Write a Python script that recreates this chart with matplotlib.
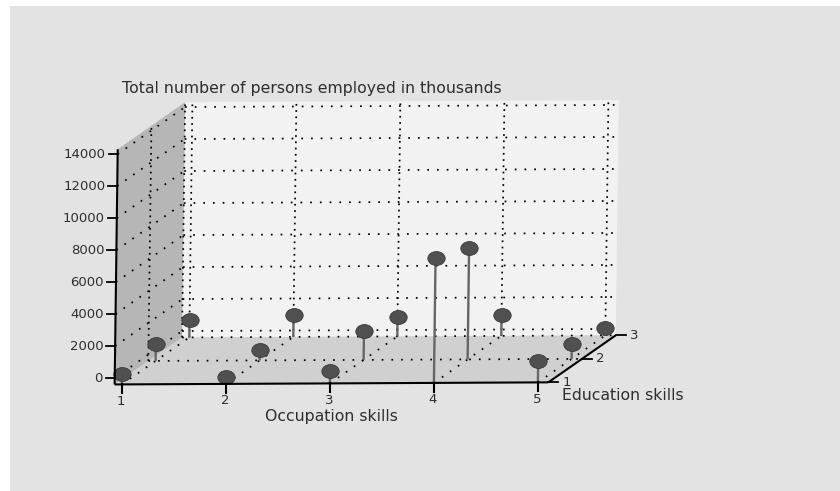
import matplotlib
matplotlib.use("Agg")
import matplotlib.pyplot as plt
from matplotlib.markers import MarkerStyle
from matplotlib.transforms import Affine2D

occupation = [1, 2, 3, 4, 5]
education = [1, 2, 3]
z_ticks = [0, 2000, 4000, 6000, 8000, 10000, 12000, 14000]
employed_edu1 = [250, 50, 375, 7400, 940]
employed_edu2 = [650, 250, 1400, 6560, 530]
employed_edu3 = [690, 970, 810, 900, 50]
employed = [employed_edu1, employed_edu2, employed_edu3]
title = "Total number of persons employed in thousands"

OCC_MIN, OCC_MAX = 0.93, 5.10
EDU_MIN, EDU_MAX = 1, 3
Z_MIN, Z_MAX = -400, 14300


def proj(occ, edu, z):
    """Oblique projection of the box onto picture pixels."""
    px = 122 + 104 * (occ - 1) + 33.7 * (edu - 1) + 0.00021 * z
    py = 378 - 0.016 * z - 23.5 * (edu - 1) - 0.5 * (occ - 1)
    return px, py


def poly(ax, corners, color, z):
    pts = [proj(*c) for c in corners]
    ax.fill([p[0] for p in pts], [p[1] for p in pts], color=color, lw=0, zorder=z)


def line(ax, a, b, **kw):
    pa, pb = proj(*a), proj(*b)
    ax.plot([pa[0], pb[0]], [pa[1], pb[1]], solid_capstyle="butt", **kw)


fig = plt.figure(figsize=(8.4, 4.91), dpi=100, facecolor="#ffffff")
ax = fig.add_axes([0, 0, 1, 1])
ax.set_xlim(0, 840)
ax.set_ylim(491, 0)
ax.axis("off")
ax.fill_between([10, 840], 6, 491, color="#e3e3e3", lw=0, zorder=0)

# panes
poly(ax, [(OCC_MIN, EDU_MAX, Z_MIN), (OCC_MAX, EDU_MAX, Z_MIN),
          (OCC_MAX, EDU_MAX, Z_MAX), (OCC_MIN, EDU_MAX, Z_MAX)], "#f2f2f2", 1)
poly(ax, [(OCC_MIN, EDU_MIN, Z_MIN), (OCC_MIN, EDU_MAX, Z_MIN),
          (OCC_MIN, EDU_MAX, Z_MAX), (OCC_MIN, EDU_MIN, Z_MAX)], "#b6b6b6", 1)
poly(ax, [(OCC_MIN, EDU_MIN, Z_MIN), (OCC_MAX, EDU_MIN, Z_MIN),
          (OCC_MAX, EDU_MAX, Z_MIN), (OCC_MIN, EDU_MAX, Z_MIN)], "#d0d0d0", 1)

# dotted grid
h_dots = dict(color="#000000", lw=1.25, ls=(0, (1.0, 4.6)), zorder=2)
v_dots = dict(color="#000000", lw=1.25, ls=(0, (1.0, 2.6)), zorder=2)
for z in z_ticks:
    line(ax, (OCC_MIN, EDU_MAX, z), (OCC_MAX + 0.02, EDU_MAX, z), **h_dots)
    line(ax, (OCC_MIN, EDU_MIN, z), (OCC_MIN, EDU_MAX, z), **h_dots)
for o in occupation:
    line(ax, (o, EDU_MAX, Z_MIN), (o, EDU_MAX, Z_MAX), **v_dots)
    line(ax, (o, EDU_MIN, Z_MIN), (o, EDU_MAX, Z_MIN), **h_dots)
for e in education[1:]:
    line(ax, (OCC_MIN, e, Z_MIN), (OCC_MIN, e, Z_MAX), **v_dots)
    line(ax, (OCC_MIN, e, Z_MIN), (OCC_MAX, e, Z_MIN), **h_dots)

# stems and markers, back row first
dot = MarkerStyle("o", transform=Affine2D().scale(1.25, 1.0))
for e, row in reversed(list(zip(education, employed))):
    for o, v in zip(occupation, row):
        line(ax, (o, e, Z_MIN), (o, e, v), color="#666666", lw=1.7, zorder=3)
        px, py = proj(o, e, v)
        ax.plot([px], [py], marker=dot, ms=10, color="#505050",
                mec="#3a3a3a", mew=0.6, zorder=4)

# axes
ax_line = dict(color="#000000", lw=1.5, zorder=5)
line(ax, (OCC_MIN, EDU_MIN, Z_MIN), (OCC_MAX, EDU_MIN, Z_MIN), **ax_line)
line(ax, (OCC_MIN, EDU_MIN, Z_MIN), (OCC_MIN, EDU_MIN, Z_MAX), **ax_line)
line(ax, (OCC_MAX, EDU_MIN, Z_MIN), (OCC_MAX, EDU_MAX, Z_MIN), **ax_line)

font = dict(fontsize=9.5, color="#2e2e2e", family="DejaVu Sans", zorder=6)
label_font = dict(font, fontsize=11.3)
for z in z_ticks:
    px, py = proj(OCC_MIN, EDU_MIN, z)
    ax.plot([px - 9, px], [py, py], color="#000000", lw=1.3, zorder=5)
    ax.text(px - 12, py, f"{z}", ha="right", va="center", **font)
for o in occupation:
    px, py = proj(o, EDU_MIN, Z_MIN)
    ax.plot([px, px], [py, py + 9], color="#000000", lw=1.5, zorder=5)
    ax.text(px - 1, py + 17, f"{o}", ha="center", va="center", **font)
for e in education:
    px, py = proj(OCC_MAX, e, Z_MIN)
    ax.plot([px, px + 10], [py, py], color="#000000", lw=1.3, zorder=5)
    ax.text(px + 14, py, f"{e}", ha="left", va="center", **font)

ax.text(122, 88, title, ha="left", va="center", **label_font)
ax.text(331, 416, "Occupation skills", ha="center", va="center", **label_font)
ax.text(562, 395, "Education skills", ha="left", va="center", **label_font)

fig.savefig("out.png", dpi=100, facecolor=fig.get_facecolor())
